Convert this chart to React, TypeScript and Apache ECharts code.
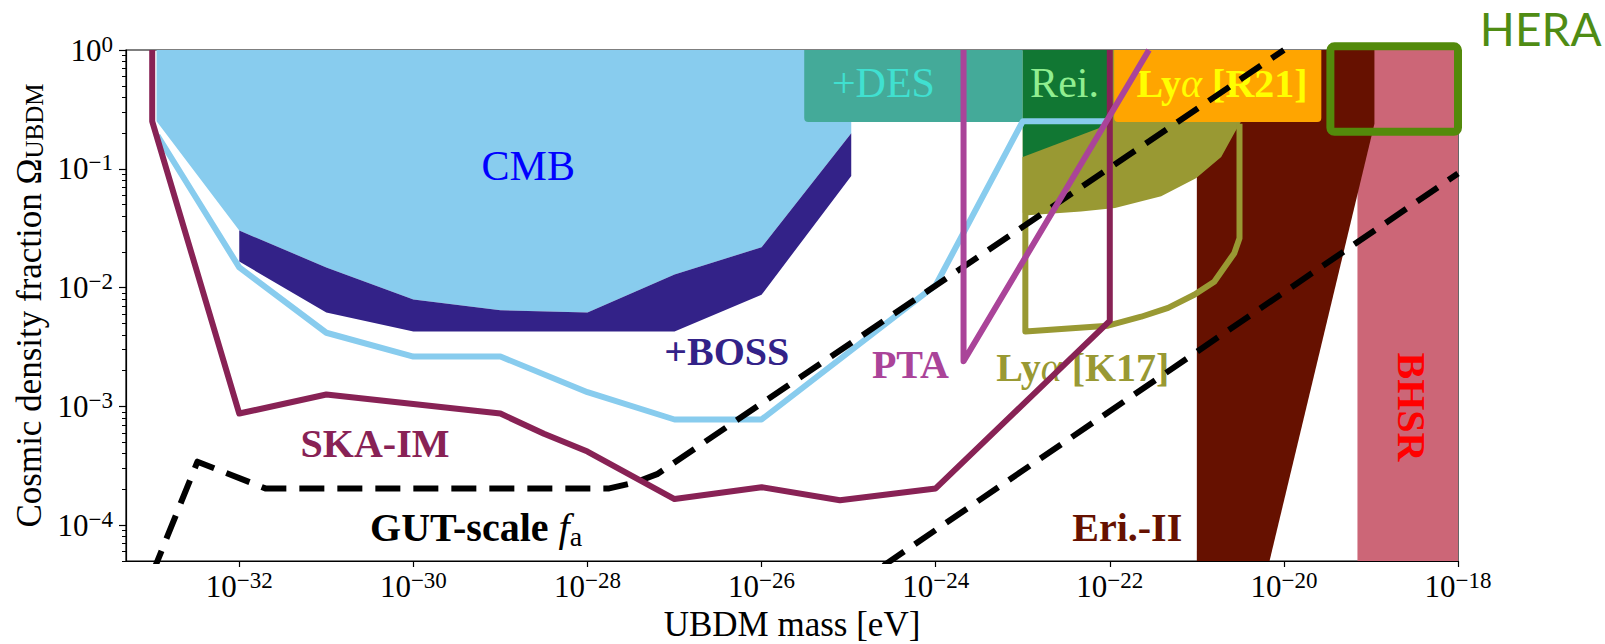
import React, { useEffect, useRef } from 'react';
import * as echarts from 'echarts';

type Pt = [number, number];

// ---- axis extents (log10 of UBDM mass [eV] and of Omega_UBDM) ----
const LOG_MASS_MIN = Math.log10(5e-34);
const LOG_MASS_MAX = -18;
const LOG_OMEGA_MIN = Math.log10(5e-5);
const LOG_OMEGA_MAX = 0;

// ---- tick labels (exponents of ten) ----
const massTickExponents = [-32, -30, -28, -26, -24, -22, -20, -18];
const omegaTickExponents = [0, -1, -2, -3, -4];
const omegaMinorMantissas = [2, 3, 4, 5, 6, 7, 8, 9];

// ---- excluded regions: [log10 m, log10 Omega] ----
const cmbRegion: Pt[] = [
  [-32.95, 0], [-32.95, -0.6], [-32.0, -1.52], [-31.0, -1.83], [-30.0, -2.1], [-29.0, -2.19],
  [-28.0, -2.21], [-27.0, -1.89], [-26.0, -1.66], [-24.97, -0.7], [-24.97, 0],
];
const bossRegion: Pt[] = [
  [-32.0, -1.52], [-31.0, -1.83], [-30.0, -2.1], [-29.0, -2.19], [-28.0, -2.21], [-27.0, -1.89],
  [-26.0, -1.66], [-24.97, -0.7], [-24.97, -1.06], [-26.0, -2.06], [-27.0, -2.37], [-30.0, -2.37],
  [-31.0, -2.21], [-32.0, -1.78],
];
const lyaK17Region: Pt[] = [
  [-23.0, 0], [-23.0, -1.37], [-22.94, -1.39], [-22.33, -1.36], [-21.94, -1.33], [-21.41, -1.23],
  [-21.01, -1.08], [-20.72, -0.9], [-20.57, -0.7], [-20.49, -0.6], [-20.49, 0],
];
const reionizationRegion: Pt[] = [[-23.0, 0], [-23.0, -0.9], [-22.02, -0.63], [-22.02, 0]];
const eriRegion: Pt[] = [
  [-21.0, LOG_OMEGA_MIN], [-21.0, 0], [-18.96, 0], [-18.96, -0.62], [-20.165, LOG_OMEGA_MIN],
];
const bhsrRegion: Pt[] = [[-19.155, LOG_OMEGA_MIN], [-19.155, 0], [-18, 0], [-18, LOG_OMEGA_MIN]];
const desBand: Pt[] = [[-25.51, 0], [-23.0, -0.606]];
const lyaR21Band: Pt[] = [[-21.95, 0], [-19.57, -0.606]];
const heraWindow: Pt[] = [[-19.466, 0.031], [-18.0, -0.688]];

// ---- curves ----
const skaCurve: Pt[] = [
  [-33.0, 0], [-33.0, -0.6], [-32.0, -3.06], [-31.0, -2.9], [-30.0, -2.98], [-29.0, -3.06],
  [-28.5, -3.23], [-28.0, -3.38], [-27.0, -3.78], [-26.0, -3.68], [-25.1, -3.79], [-24.0, -3.69],
  [-22.0, -2.28], [-22.0, 0],
];
const cmbForecastCurve: Pt[] = [
  [-32.94, -0.72], [-32.0, -1.83], [-31.0, -2.38], [-30.0, -2.58], [-29.0, -2.58], [-28.0, -2.88],
  [-27.0, -3.11], [-26.0, -3.11], [-24.0, -1.98], [-23.0, -0.6], [-22.02, -0.6],
];
const ptaCurve: Pt[] = [[-23.68, 0], [-23.68, -2.62], [-21.55, 0]];
const lyaK17Curve: Pt[] = [
  [-22.97, -0.9], [-22.97, -2.37], [-22.02, -2.32], [-21.64, -2.245], [-21.33, -2.17],
  [-21.03, -2.06], [-20.8, -1.95], [-20.57, -1.71], [-20.51, -1.585], [-20.51, -0.62],
];
const gutCurveHigh: Pt[] = [
  [-33.0, -4.41], [-32.48, -3.465], [-31.7, -3.69], [-27.75, -3.69], [-27.45, -3.64],
  [-27.2, -3.57], [-20.0, 0],
];
const gutCurveLow: Pt[] = [[-24.6, -4.34], [-18.0, -1.04]];

// ---- label anchors (data coordinates) ----
const labelAnchors: Pt[] = [
  [-28.68, -0.976], [-24.6, -0.278], [-22.52, -0.278], [-20.71, -0.278], [-26.4, -2.54],
  [-30.44, -3.316], [-29.28, -4.019], [-24.29, -2.65], [-22.31, -2.67], [-21.8, -4.019],
  [-18.535, -3.005],
];
const heraAnchor: Pt = [-17.05, 0.182];

const SERIF = '"Liberation Serif", "Times New Roman", serif';
const BOLD_SIZE = 40;
const REG_SIZE = 42;

const lyaRich = {
  b: { fontWeight: 'bold', fontSize: BOLD_SIZE, fontFamily: SERIF, lineHeight: 44 },
  g: { fontStyle: 'italic', fontWeight: 'normal', fontSize: BOLD_SIZE, fontFamily: SERIF, lineHeight: 44 },
};

const labelStyles: any[] = [
  { text: 'CMB', fill: '#0000ff', fontSize: REG_SIZE, fontWeight: 'normal' },
  { text: '+DES', fill: '#40e0d0', fontSize: REG_SIZE, fontWeight: 'normal' },
  { text: 'Rei.', fill: '#90ee90', fontSize: REG_SIZE, fontWeight: 'normal' },
  { text: '{b|Ly}{g|α}{b| [R21]}', fill: '#ffff00', rich: lyaRich },
  { text: '+BOSS', fill: '#332288', fontSize: BOLD_SIZE, fontWeight: 'bold' },
  { text: 'SKA-IM', fill: '#882255', fontSize: BOLD_SIZE, fontWeight: 'bold' },
  {
    text: '{b|GUT-scale }{i|f}{s|a}', fill: '#000000',
    rich: {
      b: { fontWeight: 'bold', fontSize: BOLD_SIZE, fontFamily: SERIF, lineHeight: 46 },
      i: { fontStyle: 'italic', fontSize: BOLD_SIZE, fontFamily: SERIF, lineHeight: 46 },
      s: { fontSize: 28, fontFamily: SERIF, lineHeight: 24, verticalAlign: 'bottom' },
    },
  },
  { text: 'PTA', fill: '#aa4499', fontSize: BOLD_SIZE, fontWeight: 'bold' },
  { text: '{b|Ly}{g|α}{b| [K17]}', fill: '#999933', rich: lyaRich, backgroundColor: '#ffffff', padding: [8, 14] },
  { text: 'Eri.-II', fill: '#661100', fontSize: BOLD_SIZE, fontWeight: 'bold' },
  { text: 'BHSR', fill: '#ff0000', fontSize: BOLD_SIZE, fontWeight: 'bold', rotation: -Math.PI / 2 },
];

const expLabel = (v: number) => {
  const n = Math.round(v);
  return `{b|10}{s|${n < 0 ? '\u2212' + -n : String(n)}}`;
};
const tickRich = {
  b: { fontSize: 31, fontFamily: SERIF, color: '#000', lineHeight: 35 },
  s: { fontSize: 23, fontFamily: SERIF, color: '#000', lineHeight: 23, verticalAlign: 'top' },
};

function polygonSeries(points: Pt[], fill: string) {
  return {
    type: 'custom',
    coordinateSystem: 'cartesian2d',
    clip: true,
    silent: true,
    data: [points[0]],
    renderItem: (_p: any, api: any) => ({
      type: 'polygon',
      shape: { points: points.map((p) => api.coord(p)) },
      style: { fill },
    }),
  };
}

function bandSeries(corners: Pt[], fill: string, r: number[]) {
  return {
    type: 'custom',
    coordinateSystem: 'cartesian2d',
    clip: true,
    silent: true,
    data: [corners[0]],
    renderItem: (_p: any, api: any) => {
      const a = api.coord(corners[0]);
      const b = api.coord(corners[1]);
      return {
        type: 'rect',
        shape: { x: a[0], y: a[1], width: b[0] - a[0], height: b[1] - a[1], r },
        style: { fill },
      };
    },
  };
}

function lineSeries(points: Pt[], color: string, width: number, dashed = false) {
  return {
    type: 'line',
    data: points,
    symbol: 'none',
    showSymbol: false,
    silent: true,
    clip: true,
    lineStyle: {
      color,
      width,
      type: dashed ? [25, 13] : 'solid',
      cap: 'butt',
      join: 'round',
    },
  };
}

function buildOption(): any {
  const minorTicks: number[] = [];
  for (let n = -5; n <= -1; n++) {
    for (const k of omegaMinorMantissas) {
      const v = n + Math.log10(k);
      if (v >= LOG_OMEGA_MIN - 1e-9 && v <= LOG_OMEGA_MAX) minorTicks.push(v);
    }
  }
  return {
    animation: false,
    grid: {
      left: 126, right: 147, top: 50, bottom: 83,
      show: true, borderColor: '#000', borderWidth: 1.2, backgroundColor: 'transparent',
      containLabel: false, outerBoundsMode: 'none',
    },
    xAxis: {
      type: 'value',
      min: LOG_MASS_MIN,
      max: LOG_MASS_MAX,
      position: 'bottom',
      splitLine: { show: false },
      axisLine: { show: true, onZero: false, lineStyle: { color: '#000', width: 1.2 } },
      axisTick: { show: true, length: 6, customValues: massTickExponents, lineStyle: { color: '#000', width: 1.2 } },
      axisLabel: { customValues: massTickExponents, formatter: expLabel, rich: tickRich, margin: 8 },
      name: 'UBDM mass [eV]',
      nameLocation: 'middle',
      nameGap: 45,
      nameTextStyle: { fontFamily: SERIF, fontSize: 35, color: '#000' },
    },
    yAxis: [
      {
        type: 'value',
        min: LOG_OMEGA_MIN,
        max: LOG_OMEGA_MAX,
        position: 'left',
        splitLine: { show: false },
        axisLine: { show: true, onZero: false, lineStyle: { color: '#000', width: 1.2 } },
        axisTick: { show: true, length: 7, customValues: omegaTickExponents, lineStyle: { color: '#000', width: 1.2 } },
        axisLabel: { customValues: omegaTickExponents, formatter: expLabel, rich: tickRich, margin: 13 },
        name: '{t|Cosmic density fraction Ω}{s|UBDM}',
        nameLocation: 'middle',
        nameRotate: 90,
        nameGap: 72,
        nameTextStyle: {
          color: '#000',
          rich: {
            t: { fontSize: 35, fontFamily: SERIF, color: '#000', lineHeight: 44, verticalAlign: 'bottom' },
            s: { fontSize: 25, fontFamily: SERIF, color: '#000', lineHeight: 30, verticalAlign: 'bottom' },
          },
        },
      },
      {
        type: 'value',
        min: LOG_OMEGA_MIN,
        max: LOG_OMEGA_MAX,
        position: 'left',
        splitLine: { show: false },
        axisLine: { show: false, onZero: false },
        axisTick: { show: true, length: 4, customValues: minorTicks, lineStyle: { color: '#000', width: 1 } },
        axisLabel: { show: false },
      },
    ],
    series: [
      polygonSeries(cmbRegion, '#88ccee'),
      polygonSeries(bossRegion, '#332288'),
      polygonSeries(bhsrRegion, '#cc6677'),
      polygonSeries(eriRegion, '#661100'),
      polygonSeries(lyaK17Region, '#999933'),
      lineSeries(lyaK17Curve, '#999933', 6),
      bandSeries(desBand, '#44aa99', [0, 0, 0, 4]),
      polygonSeries(reionizationRegion, '#117733'),
      lineSeries(cmbForecastCurve, '#88ccee', 6),
      lineSeries(gutCurveHigh, '#000000', 6, true),
      lineSeries(gutCurveLow, '#000000', 6, true),
      bandSeries(lyaR21Band, '#ffa500', [0, 0, 4, 4]),
      lineSeries(skaCurve, '#882255', 6),
      lineSeries(ptaCurve, '#aa4499', 6),
      {
        type: 'custom',
        coordinateSystem: 'cartesian2d',
        clip: false,
        silent: true,
        data: labelAnchors,
        renderItem: (params: any, api: any) => {
          const i = params.dataIndex;
          const L = labelStyles[i];
          const p = api.coord([api.value(0), api.value(1)]);
          const style: any = {
            text: L.text,
            fill: L.fill,
            fontFamily: SERIF,
            align: 'center',
            verticalAlign: 'middle',
          };
          if (L.fontSize) style.fontSize = L.fontSize;
          if (L.fontWeight) style.fontWeight = L.fontWeight;
          if (L.rich) style.rich = L.rich;
          if (L.backgroundColor) {
            style.backgroundColor = L.backgroundColor;
            style.padding = L.padding;
          }
          return { type: 'text', x: p[0], y: p[1], rotation: L.rotation || 0, style };
        },
      },
      {
        type: 'custom',
        coordinateSystem: 'cartesian2d',
        clip: false,
        silent: true,
        data: [heraAnchor],
        renderItem: (_p: any, api: any) => {
          const a = api.coord(heraWindow[0]);
          const b = api.coord(heraWindow[1]);
          const h = api.coord(heraAnchor);
          return {
            type: 'group',
            children: [
              {
                type: 'rect',
                shape: { x: a[0], y: a[1], width: b[0] - a[0], height: b[1] - a[1], r: 4 },
                style: { fill: 'none', stroke: '#538a0b', lineWidth: 8 },
              },
              {
                type: 'text',
                x: h[0],
                y: h[1],
                style: {
                  text: 'HERA', fill: '#4f8c14', fontFamily: 'Lato, "Open Sans", sans-serif',
                  fontSize: 46, align: 'center', verticalAlign: 'middle',
                },
              },
            ],
          };
        },
      },
    ],
  };
}

export default function App() {
  const ref = useRef<HTMLDivElement>(null);
  useEffect(() => {
    if (!ref.current) return;
    const chart = echarts.init(ref.current, null, { renderer: 'svg' });
    chart.setOption(buildOption());
    return () => chart.dispose();
  }, []);
  return (
    <div
      ref={ref}
      style={{ position: 'fixed', left: 0, top: 0, width: 1605, height: 644, background: '#ffffff' }}
    />
  );
}
